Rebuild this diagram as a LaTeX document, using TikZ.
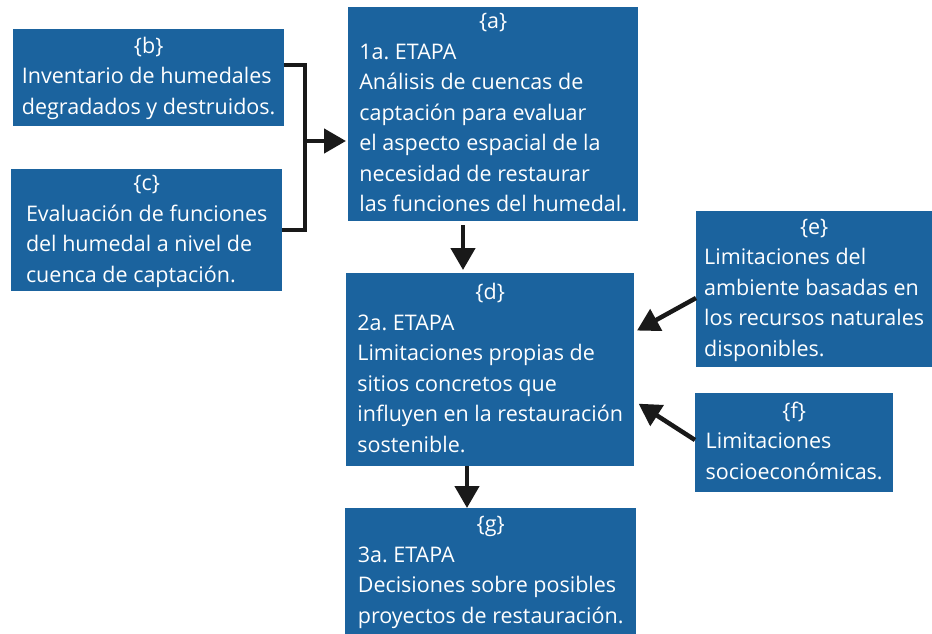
\documentclass[tikz,border=0pt]{standalone}
\usepackage{fontspec}
\setmainfont{Open Sans}
\usetikzlibrary{arrows.meta}
\definecolor{stageblue}{RGB}{27,99,158}
\newcommand{\stagetext}[2]{\begin{tabular}{@{}l@{}}\multicolumn{1}{@{}c@{}}{\{#1\}}\\#2\end{tabular}}
\begin{document}
\begin{tikzpicture}[x=1pt, y=-1pt,
	stage/.style={fill=stageblue, text=white, anchor=north west, inner sep=0pt,
		font=\fontsize{21.5}{30.5}\selectfont\frenchspacing},
	link/.style={draw=black!90, line width=4.5pt},
	flow/.style={link, -{Triangle[length=22pt,width=24pt]}}]
	\useasboundingbox (0,0) rectangle (932,634);
	% stages
	\node[stage, minimum width=290, minimum height=214] (a) at (348,7)
		{\stagetext{a}{1a. ETAPA\\Análisis de cuencas de\\captación para evaluar\\el aspecto espacial de la\\necesidad de restaurar\\las funciones del humedal.}};
	\node[stage, minimum width=271, minimum height=97]  (b) at (13,29)
		{\stagetext{b}{Inventario de humedales\\degradados y destruidos.}};
	\node[stage, minimum width=271, minimum height=119] (c) at (11,169)
		{\stagetext{c}{Evaluación de funciones\\del humedal a nivel de\\cuenca de captación.}};
	\node[stage, minimum width=288, minimum height=193] (d) at (346,273)
		{\stagetext{d}{2a. ETAPA\\Limitaciones propias de\\sitios concretos que\\influyen en la restauración\\sostenible.}};
	\node[stage, minimum width=236, minimum height=156] (e) at (696,211)
		{\stagetext{e}{Limitaciones del\\ambiente basadas en\\los recursos naturales\\disponibles.}};
	\node[stage, minimum width=198, minimum height=99]  (f) at (695,393)
		{\stagetext{f}{Limitaciones\\socioeconómicas.}};
	\node[stage, minimum width=291, minimum height=126] (g) at (345,508)
		{\stagetext{g}{3a. ETAPA\\Decisiones sobre posibles\\proyectos de restauración.}};
	% connectors
	\coordinate (bj) at (305,141);
	\coordinate (bt) at (0,65);
	\coordinate (cb) at (0,230);
	\coordinate (ad) at (463,0);
	\coordinate (dg) at (467,0);
	\coordinate (eo) at (0,298);
	\coordinate (ei) at (0,332);
	\coordinate (fo) at (0,440);
	\coordinate (fi) at (0,401);
	\draw[link] (b.east |- bt) -| (bj) |- (c.east |- cb);
	\draw[flow, shorten >=2pt] (bj) -- (a.west |- bj);
	\draw[flow, shorten <=4pt, shorten >=3pt] (a.south -| ad) -- (d.north -| ad);
	\draw[flow] (d.south -| dg) -- (g.north -| dg);
	\draw[flow, shorten >=3pt] (e.west |- eo) -- (d.east |- ei);
	\draw[flow, shorten >=5pt] (f.west |- fo) -- (d.east |- fi);
\end{tikzpicture}
\end{document}
